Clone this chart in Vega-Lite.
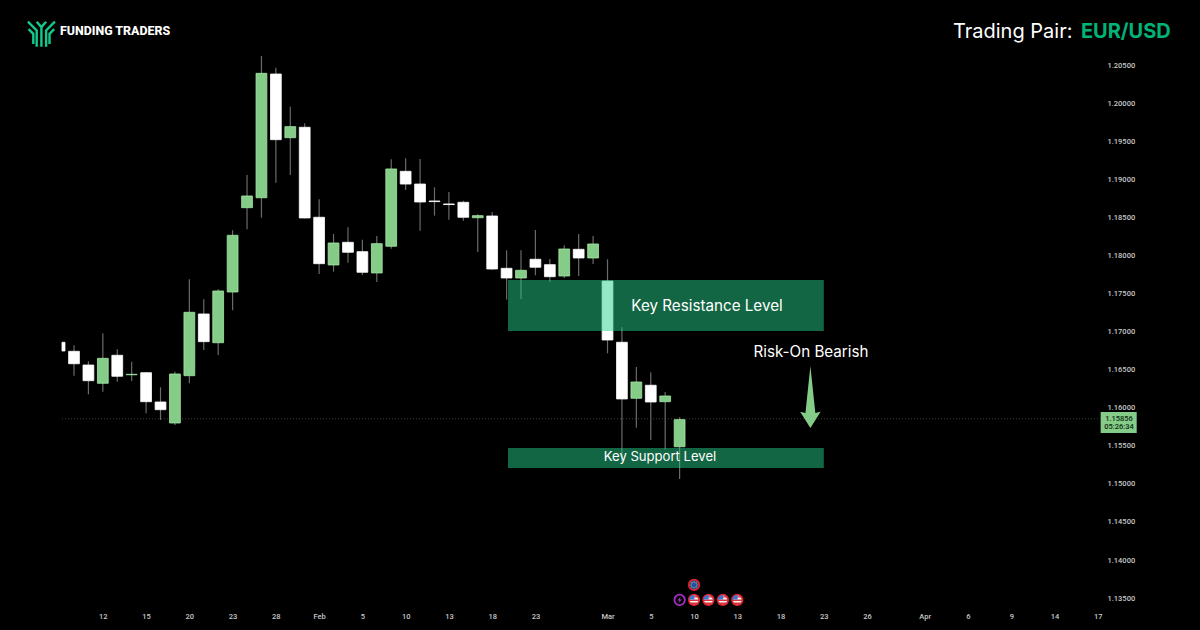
{
  "$schema": "https://vega.github.io/schema/vega-lite/v6.json",
  "width": 1200,
  "height": 630,
  "padding": 0,
  "autosize": {"type": "none"},
  "background": "#000000",
  "view": {"stroke": null},
  "config": {"axis": {"grid": false, "title": null}},
  "datasets": {
    "candles": [
      {"slot": -0.73, "open": 1.16862, "high": 1.16862, "low": 1.16747, "close": 1.16747, "dir": "down"},
      {"slot": 0, "open": 1.16743, "high": 1.16822, "low": 1.16423, "close": 1.1658, "dir": "down"},
      {"slot": 1, "open": 1.16563, "high": 1.16612, "low": 1.16178, "close": 1.16357, "dir": "down"},
      {"slot": 2, "open": 1.16323, "high": 1.1698, "low": 1.16212, "close": 1.16651, "dir": "up"},
      {"slot": 3, "open": 1.16691, "high": 1.1677, "low": 1.16344, "close": 1.16415, "dir": "down"},
      {"slot": 4, "open": 1.16435, "high": 1.16607, "low": 1.16353, "close": 1.16441, "dir": "up"},
      {"slot": 5, "open": 1.16462, "high": 1.1647, "low": 1.15929, "close": 1.16081, "dir": "down"},
      {"slot": 6, "open": 1.16077, "high": 1.1627, "low": 1.1584, "close": 1.15976, "dir": "down"},
      {"slot": 7, "open": 1.15801, "high": 1.16475, "low": 1.15775, "close": 1.16445, "dir": "up"},
      {"slot": 8, "open": 1.16423, "high": 1.1769, "low": 1.16323, "close": 1.17256, "dir": "up"},
      {"slot": 9, "open": 1.17234, "high": 1.17427, "low": 1.16761, "close": 1.1687, "dir": "down"},
      {"slot": 10, "open": 1.16856, "high": 1.17558, "low": 1.16695, "close": 1.17536, "dir": "up"},
      {"slot": 11, "open": 1.17523, "high": 1.18334, "low": 1.17282, "close": 1.18268, "dir": "up"},
      {"slot": 12, "open": 1.18631, "high": 1.19061, "low": 1.18347, "close": 1.18785, "dir": "up"},
      {"slot": 13, "open": 1.18762, "high": 1.20625, "low": 1.18499, "close": 1.20397, "dir": "up"},
      {"slot": 14, "open": 1.20388, "high": 1.20471, "low": 1.1896, "close": 1.19525, "dir": "down"},
      {"slot": 15, "open": 1.19551, "high": 1.19958, "low": 1.19061, "close": 1.19696, "dir": "up"},
      {"slot": 16, "open": 1.19688, "high": 1.1974, "low": 1.1849, "close": 1.18496, "dir": "down"},
      {"slot": 17, "open": 1.18505, "high": 1.18741, "low": 1.17759, "close": 1.17895, "dir": "down"},
      {"slot": 18, "open": 1.17878, "high": 1.18285, "low": 1.1779, "close": 1.18167, "dir": "up"},
      {"slot": 19, "open": 1.18176, "high": 1.18373, "low": 1.17908, "close": 1.18045, "dir": "down"},
      {"slot": 20, "open": 1.18053, "high": 1.1821, "low": 1.17746, "close": 1.17782, "dir": "down"},
      {"slot": 21, "open": 1.17773, "high": 1.18259, "low": 1.17654, "close": 1.18158, "dir": "up"},
      {"slot": 22, "open": 1.18124, "high": 1.19267, "low": 1.18092, "close": 1.1914, "dir": "up"},
      {"slot": 23, "open": 1.19109, "high": 1.1928, "low": 1.18864, "close": 1.18942, "dir": "down"},
      {"slot": 24, "open": 1.18942, "high": 1.19271, "low": 1.18329, "close": 1.18706, "dir": "down"},
      {"slot": 25, "open": 1.18719, "high": 1.18899, "low": 1.18526, "close": 1.18711, "dir": "down"},
      {"slot": 26, "open": 1.1868, "high": 1.18837, "low": 1.18473, "close": 1.18672, "dir": "down"},
      {"slot": 27, "open": 1.18702, "high": 1.18723, "low": 1.1846, "close": 1.18505, "dir": "down"},
      {"slot": 28, "open": 1.18499, "high": 1.18544, "low": 1.18049, "close": 1.18526, "dir": "up"},
      {"slot": 29, "open": 1.18522, "high": 1.18574, "low": 1.17816, "close": 1.17825, "dir": "down"},
      {"slot": 30, "open": 1.17834, "high": 1.18071, "low": 1.17422, "close": 1.17707, "dir": "down"},
      {"slot": 31, "open": 1.17707, "high": 1.18071, "low": 1.17431, "close": 1.17808, "dir": "up"},
      {"slot": 32, "open": 1.17953, "high": 1.18338, "low": 1.17742, "close": 1.17848, "dir": "down"},
      {"slot": 33, "open": 1.17882, "high": 1.17957, "low": 1.17654, "close": 1.17724, "dir": "down"},
      {"slot": 34, "open": 1.17733, "high": 1.18137, "low": 1.17707, "close": 1.18088, "dir": "up"},
      {"slot": 35, "open": 1.18084, "high": 1.18285, "low": 1.17733, "close": 1.1797, "dir": "down"},
      {"slot": 36, "open": 1.1797, "high": 1.18259, "low": 1.17891, "close": 1.18154, "dir": "up"},
      {"slot": 37, "open": 1.17667, "high": 1.17953, "low": 1.16717, "close": 1.16892, "dir": "down"},
      {"slot": 38, "open": 1.16862, "high": 1.17059, "low": 1.15275, "close": 1.16117, "dir": "down"},
      {"slot": 39, "open": 1.16126, "high": 1.16537, "low": 1.15739, "close": 1.1634, "dir": "up"},
      {"slot": 40, "open": 1.16297, "high": 1.16467, "low": 1.15578, "close": 1.16077, "dir": "down"},
      {"slot": 41, "open": 1.16081, "high": 1.16208, "low": 1.15455, "close": 1.16156, "dir": "up"},
      {"slot": 42, "open": 1.15489, "high": 1.15876, "low": 1.15065, "close": 1.15845, "dir": "up"}
    ],
    "zones": [
      {"name": "Key Resistance Level", "from": 30.1, "to": 52.0, "top": 1.17681, "bottom": 1.1701},
      {"name": "Key Support Level", "from": 30.1, "to": 52.0, "top": 1.15472, "bottom": 1.15209}
    ],
    "lastPrice": [
      {"from": -0.83, "to": 71.2, "price": 1.15856}
    ],
    "priceBox": [
      {"from": 71.2, "to": 73.7, "top": 1.15946, "bottom": 1.1567}
    ],
    "notes": [
      {"slot": 43.9, "price": 1.17339, "text": "Key Resistance Level", "kind": "resistance"},
      {"slot": 40.64, "price": 1.15354, "text": "Key Support Level", "kind": "support"},
      {"slot": 51.11, "price": 1.16734, "text": "Risk-On Bearish", "kind": "bias"}
    ],
    "boxText": [
      {"slot": 72.47, "price": 1.15854, "text": "1.15856"},
      {"slot": 72.47, "price": 1.15748, "text": "05:26:34"}
    ],
    "header": [
      {"slot": 60.96, "price": 1.2094, "text": "Trading Pair:"}
    ],
    "pair": [
      {"slot": 69.83, "price": 1.2094, "text": "EUR/USD"}
    ],
    "brand": [
      {"slot": -0.97, "price": 1.20947, "text": "FUNDING TRADERS"}
    ],
    "logo": [
      {"slot": -2.26, "price": 1.20925}
    ],
    "arrow": [
      {"slot": 51.07, "price": 1.16143}
    ],
    "events": [
      {"slot": 43, "price": 1.13672, "kind": "eu"},
      {"slot": 42, "price": 1.13475, "kind": "energy"},
      {"slot": 43, "price": 1.13475, "kind": "us"},
      {"slot": 44, "price": 1.13475, "kind": "us"},
      {"slot": 45, "price": 1.13475, "kind": "us"},
      {"slot": 46, "price": 1.13475, "kind": "us"}
    ]
  },
  "layer": [
    {
      "data": {"name": "lastPrice"},
      "mark": {"type": "rule", "color": "#36463a", "strokeWidth": 1, "strokeDash": [1, 2]},
      "encoding": {
        "x": {
          "field": "from",
          "type": "quantitative",
          "scale": {"domain": [-5.132, 78.09], "nice": false, "zero": false, "padding": 0},
          "axis": {
            "orient": "bottom",
            "offset": -18,
            "domain": false,
            "ticks": false,
            "values": [2, 5, 8, 11, 14, 17, 20, 23, 26, 29, 32, 37, 40, 43, 46, 49, 52, 55, 59, 62, 65, 68, 71],
            "labelExpr": "{'2':'12','5':'15','8':'20','11':'23','14':'28','17':'Feb','20':'5','23':'10','26':'13','29':'18','32':'23','37':'Mar','40':'5','43':'10','46':'13','49':'18','52':'23','55':'26','59':'Apr','62':'6','65':'9','68':'14','71':'17'}[datum.value]",
            "labelColor": "#c8c8c8",
            "labelFont": "Roboto",
            "labelFontSize": 7.5,
            "labelFontWeight": 500,
            "labelPadding": 0,
            "labelOverlap": false,
            "labelFlush": false
          }
        },
        "x2": {"field": "to"},
        "y": {
          "field": "price",
          "type": "quantitative",
          "scale": {"domain": [1.1308, 1.21361], "nice": false, "zero": false},
          "axis": {
            "orient": "right",
            "offset": -100,
            "domain": false,
            "ticks": false,
            "values": [1.205, 1.2, 1.195, 1.19, 1.185, 1.18, 1.175, 1.17, 1.165, 1.16, 1.155, 1.15, 1.145, 1.14, 1.135],
            "format": ".5f",
            "labelColor": "#c8c8c8",
            "labelFont": "Roboto",
            "labelFontSize": 7.5,
            "labelFontWeight": 500,
            "labelPadding": 7,
            "labelOverlap": false,
            "labelFlush": false
          }
        }
      }
    },
    {
      "data": {"name": "candles"},
      "mark": {"type": "rule", "color": "#6a6a6a", "strokeWidth": 1.2},
      "encoding": {
        "x": {"field": "slot", "type": "quantitative", "axis": {"orient": "bottom"}, "scale": {"domain": [-5.132, 78.09], "nice": false, "zero": false, "padding": 0}},
        "y": {"field": "high", "type": "quantitative", "axis": {"orient": "right"}, "scale": {"domain": [1.1308, 1.21361], "nice": false, "zero": false}},
        "y2": {"field": "low"},
        "opacity": {"condition": {"test": "datum.slot < 0", "value": 0}, "value": 1}
      }
    },
    {
      "data": {"name": "candles"},
      "mark": {"type": "bar", "orient": "vertical", "strokeWidth": 0.8},
      "encoding": {
        "x": {"field": "slot", "type": "quantitative", "axis": {"orient": "bottom"}, "scale": {"domain": [-5.132, 78.09], "nice": false, "zero": false, "padding": 0}},
        "y": {"field": "open", "type": "quantitative", "axis": {"orient": "right"}, "scale": {"domain": [1.1308, 1.21361], "nice": false, "zero": false}},
        "y2": {"field": "close"},
        "size": {"condition": {"test": "datum.slot < 0", "value": 3}, "value": 10.8},
        "color": {"field": "dir", "type": "nominal", "legend": null, "scale": {"domain": ["up", "down"], "range": ["#85cc88", "#ffffff"]}},
        "stroke": {"field": "dir", "type": "nominal", "legend": null, "scale": {"domain": ["up", "down"], "range": ["#a3e8a6", "#ffffff"]}}
      }
    },
    {
      "data": {"name": "zones"},
      "mark": {"type": "rect", "color": "#27d08b", "opacity": 0.49},
      "encoding": {
        "x": {"field": "from", "type": "quantitative", "axis": {"orient": "bottom"}, "scale": {"domain": [-5.132, 78.09], "nice": false, "zero": false, "padding": 0}},
        "x2": {"field": "to"},
        "y": {"field": "top", "type": "quantitative", "axis": {"orient": "right"}, "scale": {"domain": [1.1308, 1.21361], "nice": false, "zero": false}},
        "y2": {"field": "bottom"}
      }
    },
    {
      "data": {"name": "priceBox"},
      "mark": {"type": "rect", "color": "#85cc88"},
      "encoding": {
        "x": {"field": "from", "type": "quantitative", "axis": {"orient": "bottom"}, "scale": {"domain": [-5.132, 78.09], "nice": false, "zero": false, "padding": 0}},
        "x2": {"field": "to"},
        "y": {"field": "top", "type": "quantitative", "axis": {"orient": "right"}, "scale": {"domain": [1.1308, 1.21361], "nice": false, "zero": false}},
        "y2": {"field": "bottom"}
      }
    },
    {
      "data": {"name": "boxText"},
      "mark": {"type": "text", "font": "Roboto", "fontSize": 7.5, "fontWeight": 500, "color": "#0c2b10", "align": "center", "baseline": "middle"},
      "encoding": {
        "x": {"field": "slot", "type": "quantitative", "axis": {"orient": "bottom"}, "scale": {"domain": [-5.132, 78.09], "nice": false, "zero": false, "padding": 0}},
        "y": {"field": "price", "type": "quantitative", "axis": {"orient": "right"}, "scale": {"domain": [1.1308, 1.21361], "nice": false, "zero": false}},
        "text": {"field": "text"}
      }
    },
    {
      "data": {"name": "notes"},
      "mark": {"type": "text", "font": "Inter", "color": "#ffffff", "align": "center", "baseline": "middle"},
      "encoding": {
        "x": {"field": "slot", "type": "quantitative", "axis": {"orient": "bottom"}, "scale": {"domain": [-5.132, 78.09], "nice": false, "zero": false, "padding": 0}},
        "y": {"field": "price", "type": "quantitative", "axis": {"orient": "right"}, "scale": {"domain": [1.1308, 1.21361], "nice": false, "zero": false}},
        "text": {"field": "text"},
        "size": {"condition": {"test": "datum.kind == 'support'", "value": 13.1}, "value": 15.2}
      }
    },
    {
      "data": {"name": "header"},
      "mark": {"type": "text", "font": "Inter", "fontSize": 20, "color": "#ffffff", "align": "left", "baseline": "middle"},
      "encoding": {
        "x": {"field": "slot", "type": "quantitative", "axis": {"orient": "bottom"}, "scale": {"domain": [-5.132, 78.09], "nice": false, "zero": false, "padding": 0}},
        "y": {"field": "price", "type": "quantitative", "axis": {"orient": "right"}, "scale": {"domain": [1.1308, 1.21361], "nice": false, "zero": false}},
        "text": {"field": "text"}
      }
    },
    {
      "data": {"name": "pair"},
      "mark": {"type": "text", "font": "Inter", "fontSize": 20, "fontWeight": 700, "color": "#00b377", "align": "left", "baseline": "middle"},
      "encoding": {
        "x": {"field": "slot", "type": "quantitative", "axis": {"orient": "bottom"}, "scale": {"domain": [-5.132, 78.09], "nice": false, "zero": false, "padding": 0}},
        "y": {"field": "price", "type": "quantitative", "axis": {"orient": "right"}, "scale": {"domain": [1.1308, 1.21361], "nice": false, "zero": false}},
        "text": {"field": "text"}
      }
    },
    {
      "data": {"name": "brand"},
      "mark": {"type": "text", "font": "Roboto", "fontSize": 12.4, "fontWeight": 800, "color": "#ffffff", "align": "left", "baseline": "middle"},
      "encoding": {
        "x": {"field": "slot", "type": "quantitative", "axis": {"orient": "bottom"}, "scale": {"domain": [-5.132, 78.09], "nice": false, "zero": false, "padding": 0}},
        "y": {"field": "price", "type": "quantitative", "axis": {"orient": "right"}, "scale": {"domain": [1.1308, 1.21361], "nice": false, "zero": false}},
        "text": {"field": "text"}
      }
    },
    {
      "data": {"name": "logo"},
      "mark": {
        "type": "point",
        "shape": "M-1,-.85L-.35,-.2V1M1,-.85L.35,-.2V1M-.95,-.3L-.6,.05V.8M.95,-.3L.6,.05V.8M-.35,-.85L0,-.45V1M.35,-.85L0,-.45",
        "size": 729,
        "filled": false,
        "stroke": "#14c98c",
        "strokeWidth": 2.4,
        "opacity": 1
      },
      "encoding": {
        "x": {"field": "slot", "type": "quantitative", "axis": {"orient": "bottom"}, "scale": {"domain": [-5.132, 78.09], "nice": false, "zero": false, "padding": 0}},
        "y": {"field": "price", "type": "quantitative", "axis": {"orient": "right"}, "scale": {"domain": [1.1308, 1.21361], "nice": false, "zero": false}}
      }
    },
    {
      "data": {"name": "arrow"},
      "mark": {
        "type": "point",
        "shape": "M0,-1L.16,.52L.33,.48L0,1L-.33,.48L-.16,.52Z",
        "size": 3844,
        "filled": true,
        "fill": "#85cc88",
        "opacity": 1
      },
      "encoding": {
        "x": {"field": "slot", "type": "quantitative", "axis": {"orient": "bottom"}, "scale": {"domain": [-5.132, 78.09], "nice": false, "zero": false, "padding": 0}},
        "y": {"field": "price", "type": "quantitative", "axis": {"orient": "right"}, "scale": {"domain": [1.1308, 1.21361], "nice": false, "zero": false}}
      }
    },
    {
      "data": {"name": "events"},
      "mark": {"type": "point", "shape": "circle", "size": 110, "filled": true, "strokeWidth": 1.8, "opacity": 1},
      "encoding": {
        "x": {"field": "slot", "type": "quantitative", "axis": {"orient": "bottom"}, "scale": {"domain": [-5.132, 78.09], "nice": false, "zero": false, "padding": 0}},
        "y": {"field": "price", "type": "quantitative", "axis": {"orient": "right"}, "scale": {"domain": [1.1308, 1.21361], "nice": false, "zero": false}},
        "fill": {"field": "kind", "type": "nominal", "legend": null, "scale": {"domain": ["us", "eu", "energy"], "range": ["#f4f4f4", "#1c4fa8", "#000000"]}},
        "stroke": {"field": "kind", "type": "nominal", "legend": null, "scale": {"domain": ["us", "eu", "energy"], "range": ["#e0202c", "#e0202c", "#a02fc4"]}}
      }
    },
    {
      "data": {"name": "events"},
      "transform": [{"filter": "datum.kind == 'us'"}],
      "mark": {"type": "point", "shape": "M-1,-.1H1V.2H-1ZM-.85,.5H.85V.8H-.85ZM-.1,-.7H.8V-.45H-.1Z", "size": 110, "filled": true, "fill": "#d8343c", "opacity": 1},
      "encoding": {
        "x": {"field": "slot", "type": "quantitative", "axis": {"orient": "bottom"}, "scale": {"domain": [-5.132, 78.09], "nice": false, "zero": false, "padding": 0}},
        "y": {"field": "price", "type": "quantitative", "axis": {"orient": "right"}, "scale": {"domain": [1.1308, 1.21361], "nice": false, "zero": false}}
      }
    },
    {
      "data": {"name": "events"},
      "transform": [{"filter": "datum.kind == 'us'"}],
      "mark": {"type": "point", "shape": "M-.9,-.4L-.4,-.9L.05,-.95V-.1H-.95Z", "size": 110, "filled": true, "fill": "#3f74d0", "opacity": 1},
      "encoding": {
        "x": {"field": "slot", "type": "quantitative", "axis": {"orient": "bottom"}, "scale": {"domain": [-5.132, 78.09], "nice": false, "zero": false, "padding": 0}},
        "y": {"field": "price", "type": "quantitative", "axis": {"orient": "right"}, "scale": {"domain": [1.1308, 1.21361], "nice": false, "zero": false}}
      }
    },
    {
      "data": {"name": "events"},
      "transform": [{"filter": "datum.kind == 'eu'"}],
      "mark": {"type": "point", "shape": "M-.1,-.65H.1V-.45H-.1ZM-.1,.45H.1V.65H-.1ZM-.65,-.1H-.45V.1H-.65ZM.45,-.1H.65V.1H.45ZM-.5,-.5H-.3V-.3H-.5ZM.3,-.5H.5V-.3H.3ZM-.5,.3H-.3V.5H-.5ZM.3,.3H.5V.5H.3Z", "size": 110, "filled": true, "fill": "#e8c93a", "opacity": 1},
      "encoding": {
        "x": {"field": "slot", "type": "quantitative", "axis": {"orient": "bottom"}, "scale": {"domain": [-5.132, 78.09], "nice": false, "zero": false, "padding": 0}},
        "y": {"field": "price", "type": "quantitative", "axis": {"orient": "right"}, "scale": {"domain": [1.1308, 1.21361], "nice": false, "zero": false}}
      }
    },
    {
      "data": {"name": "events"},
      "transform": [{"filter": "datum.kind == 'energy'"}],
      "mark": {"type": "point", "shape": "M.25,-.7L-.4,.1H0L-.25,.7L.4,-.1H0Z", "size": 110, "filled": true, "fill": "#b040d8", "opacity": 1},
      "encoding": {
        "x": {"field": "slot", "type": "quantitative", "axis": {"orient": "bottom"}, "scale": {"domain": [-5.132, 78.09], "nice": false, "zero": false, "padding": 0}},
        "y": {"field": "price", "type": "quantitative", "axis": {"orient": "right"}, "scale": {"domain": [1.1308, 1.21361], "nice": false, "zero": false}}
      }
    }
  ],
  "resolve": {"scale": {"color": "independent", "stroke": "independent"}}
}
